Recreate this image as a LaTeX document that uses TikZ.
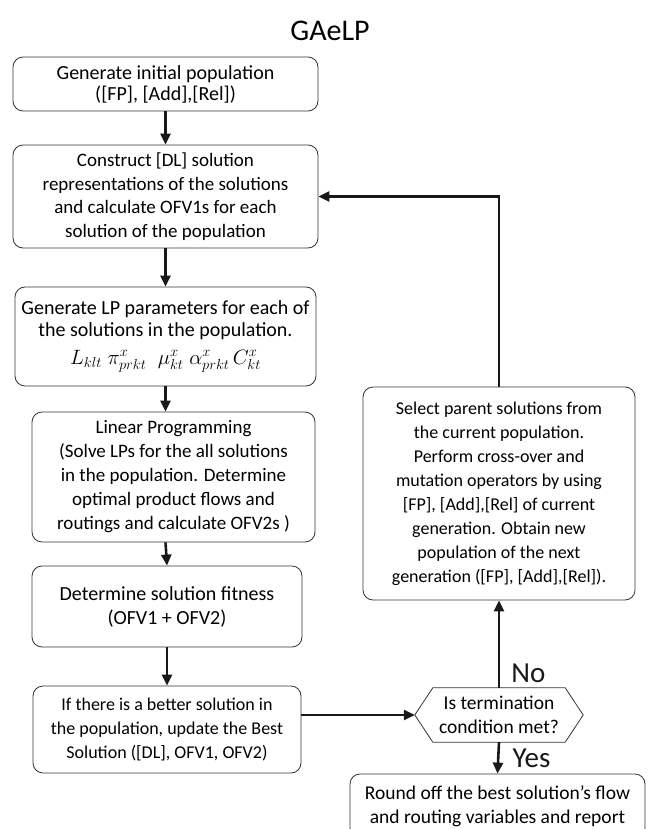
\documentclass[tikz,border=0pt]{standalone}
\usepackage{amsmath,amssymb}
\usepackage{fontspec}
\setmainfont{Carlito}
\usepackage{tikz}
\usetikzlibrary{
  arrows.meta,
  positioning,
  calc,
}

\begin{document}
\begin{tikzpicture}[
  x=1pt, y=-1pt,
  font=\fontsize{18}{24}\selectfont,
  every node/.style={align=center},
  box/.style={draw=black!80, line width=0.8pt, rounded corners=10pt,
    inner sep=0pt},
  arrow/.style={-{Triangle[length=11pt,width=10pt]}, line width=2.6pt,
    black!90},
  biglabel/.style={font=\fontsize{29}{30}\selectfont, inner sep=0pt},
]
\useasboundingbox (0,0) rectangle (653,829);

\node[font=\fontsize{30}{32}\selectfont] (title) at (330,31) {GAeLP};

%% Left column
\node[box, minimum width=305, minimum height=54,
  font=\fontsize{20}{21}\selectfont] (b1) at (165.5,84)
  {Generate initial population\\([FP], [Add],[Rel])};
\node[box, minimum width=305, minimum height=103,
  font=\fontsize{19}{23.5}\selectfont] (b2) at (165.5,196.5)
  {Construct [DL] solution\\representations of the solutions\\
   and calculate OFV1s for each\\solution of the population};
\node[box, minimum width=301, minimum height=99,
  font=\fontsize{20}{22}\selectfont] (b3) at (165.5,336.5)
  {Generate LP parameters for each of\\the solutions in the population.\\[6pt]
   {\fontsize{21.3}{26}\selectfont
   $L_{klt}\;\pi^{x}_{prkt}\;\;\mu^{x}_{kt}\;\alpha^{x}_{prkt}\,C^{x}_{kt}$%
   \hspace{12pt}}};
\node[box, minimum width=283, minimum height=130,
  font=\fontsize{19}{24}\selectfont] (b4) at (173.5,477)
  {Linear Programming\\(Solve LPs for the all solutions\\
   in the population. Determine\\optimal product flows and\\
   routings and calculate OFV2s )};
\node[box, minimum width=270, minimum height=81,
  font=\fontsize{20}{24}\selectfont] (b5) at (167,606.5)
  {Determine solution fitness\\(OFV1 + OFV2)};
\node[box, minimum width=268, minimum height=87] (b6) at (167,729.5)
  {If there is a better solution in\\the population, update the Best\\
   Solution ([DL], OFV1, OFV2)};

%% Right column
\node[minimum width=168, minimum height=54, inner sep=0pt,
  font=\fontsize{19.5}{24}\selectfont] (hex) at (499,715)
  {Is termination\\condition met?};
\draw[black!80, line width=0.8pt]
  (hex.west) -- ($(hex.north west)+(18,0)$) -- ($(hex.north east)+(-18,0)$)
  -- (hex.east) -- ($(hex.south east)+(-18,0)$) -- ($(hex.south west)+(18,0)$)
  -- cycle;
\node[box, minimum width=272, minimum height=213] (b7) at (499,493.5)
  {Select parent solutions from\\the current population.\\
   Perform cross-over and\\mutation operators by using\\
   {[FP], [Add],[Rel] of current}\\generation. Obtain new\\
   population of the next\\generation ([FP], [Add],[Rel]).};
\node[box, minimum width=295, minimum height=64,
  font=\fontsize{19.5}{24}\selectfont] (b8) at (497.5,806)
  {Round off the best solution’s flow\\and routing variables and report};

%% Connectors
\draw[arrow] (b1.south) -- (b1.south |- b2.north);
\draw[arrow] (b2.south) -- (b2.south |- b3.north);
\draw[arrow] (b3.south) -- (b3.south |- b4.north);
\draw[arrow] (b3.south |- b4.south) -- (b5.north);
\draw[arrow] (b5.south) -- (b6.north);
\draw[arrow] (b6.east |- hex.west) -- (hex.west);
\draw[arrow] (hex.north) -- (b7.south)
  node[biglabel, pos=0.17, right=11pt] (no) {No};
\draw[arrow] (hex.south) -- (b8.north)
  node[biglabel, pos=0.5, right=13pt] (yes) {Yes};
\draw[arrow] (b7.north) |- (b2.east);

\end{tikzpicture}
\end{document}
